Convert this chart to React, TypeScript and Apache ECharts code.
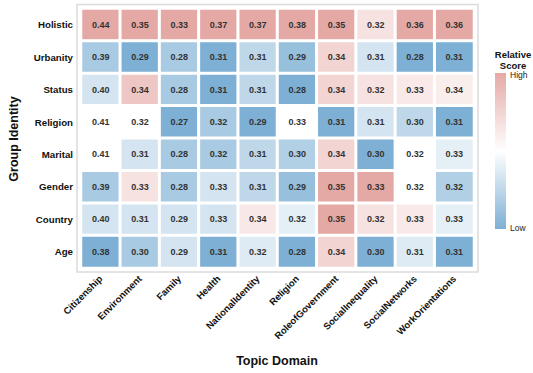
import React, { useEffect, useRef } from "react";
import * as echarts from "echarts";

// Topic domains (columns) and group identities (rows, top to bottom)
const topics = [
  "Citizenship",
  "Environment",
  "Family",
  "Health",
  "NationalIdentity",
  "Religion",
  "RoleofGovernment",
  "SocialInequality",
  "SocialNetworks",
  "WorkOrientations",
];
const groups = ["Holistic", "Urbanity", "Status", "Religion", "Marital", "Gender", "Country", "Age"];

// Scores per group, one value per topic
const holistic = [0.44, 0.35, 0.33, 0.37, 0.37, 0.38, 0.35, 0.32, 0.36, 0.36];
const urbanity = [0.39, 0.29, 0.28, 0.31, 0.31, 0.29, 0.34, 0.31, 0.28, 0.31];
const status = [0.40, 0.34, 0.28, 0.31, 0.31, 0.28, 0.34, 0.32, 0.33, 0.34];
const religion = [0.41, 0.32, 0.27, 0.32, 0.29, 0.33, 0.31, 0.31, 0.30, 0.31];
const marital = [0.41, 0.31, 0.28, 0.32, 0.31, 0.30, 0.34, 0.30, 0.32, 0.33];
const gender = [0.39, 0.33, 0.28, 0.33, 0.31, 0.29, 0.35, 0.33, 0.32, 0.32];
const country = [0.40, 0.31, 0.29, 0.33, 0.34, 0.32, 0.35, 0.32, 0.33, 0.33];
const age = [0.38, 0.30, 0.29, 0.31, 0.32, 0.28, 0.34, 0.30, 0.31, 0.31];

const rowsData = [holistic, urbanity, status, religion, marital, gender, country, age];

const LOW = "#7db0d4";
const MID = "#ffffff";
const HIGH = "#e5a9a5";
const FONT = "'Liberation Sans', Arial, Helvetica, sans-serif";

export default function App() {
  const ref = useRef<HTMLDivElement>(null);

  useEffect(() => {
    if (!ref.current) return;
    const chart = echarts.init(ref.current, undefined, { renderer: "svg" });

    // Relative score: min-max normalised within each topic column
    const data: any[] = [];
    topics.forEach((_, c) => {
      const col = rowsData.map((r) => r[c]);
      const mn = Math.min(...col);
      const mx = Math.max(...col);
      rowsData.forEach((r, g) => {
        const rel = mx > mn ? (r[c] - mn) / (mx - mn) : 0.5;
        data.push([c, g, r[c], rel]);
      });
    });

    chart.setOption({
      animation: false,
      backgroundColor: "#ffffff",
      textStyle: { fontFamily: FONT },
      grid: { left: 81, top: 8.5, right: 59, bottom: 105 },
      xAxis: {
        type: "category",
        data: topics,
        axisLine: { show: false },
        axisTick: { show: false },
        splitLine: { show: false },
        axisLabel: {
          rotate: 45,
          interval: 0,
          margin: 9,
          fontSize: 9.5,
          fontWeight: "bold",
          color: "#111",
          fontFamily: FONT,
        },
      },
      yAxis: {
        type: "category",
        data: groups,
        inverse: true,
        axisLine: { show: false },
        axisTick: { show: false },
        splitLine: { show: false },
        axisLabel: {
          margin: 8,
          fontSize: 9.7,
          fontWeight: "bold",
          color: "#111",
          fontFamily: FONT,
        },
      },
      visualMap: {
        show: false,
        type: "continuous",
        min: 0,
        max: 1,
        dimension: 3,
        inRange: { color: [LOW, MID, HIGH] },
      },
      series: [
        {
          type: "heatmap",
          data,
          encode: { x: 0, y: 1 },
          itemStyle: { borderColor: "#ffffff", borderWidth: 3 },
          label: {
            show: true,
            fontSize: 9,
            fontWeight: "bold",
            color: "#333",
            fontFamily: FONT,
            formatter: (p: any) => p.value[2].toFixed(2),
          },
          emphasis: { disabled: true },
        },
      ],
      graphic: [
        {
          type: "rect",
          shape: { x: 77, y: 4.5, width: 401, height: 267.5 },
          style: { fill: "none", stroke: "#dcdcdc", lineWidth: 1.5 },
          silent: true,
        },
        {
          type: "text",
          x: 14,
          y: 139,
          rotation: Math.PI / 2,
          style: {
            text: "Group Identity",
            fontSize: 12.5,
            fontWeight: "bold",
            fill: "#111",
            fontFamily: FONT,
            align: "center",
            verticalAlign: "middle",
          },
        },
        {
          type: "text",
          x: 277,
          y: 361,
          style: {
            text: "Topic Domain",
            fontSize: 12.5,
            fontWeight: "bold",
            fill: "#111",
            fontFamily: FONT,
            align: "center",
            verticalAlign: "middle",
          },
        },
        {
          type: "text",
          x: 513,
          y: 60,
          style: {
            text: "Relative\nScore",
            fontSize: 9.5,
            fontWeight: "bold",
            lineHeight: 10.5,
            fill: "#111",
            fontFamily: FONT,
            align: "center",
            verticalAlign: "middle",
          },
        },
        {
          type: "rect",
          shape: { x: 495, y: 73, width: 11, height: 156 },
          style: {
            fill: new echarts.graphic.LinearGradient(0, 0, 0, 1, [
              { offset: 0, color: HIGH },
              { offset: 0.5, color: MID },
              { offset: 1, color: LOW },
            ]),
          },
          silent: true,
        },
        {
          type: "text",
          x: 510,
          y: 75,
          style: { text: "High", fontSize: 8.5, fill: "#222", fontFamily: FONT, verticalAlign: "middle" },
        },
        {
          type: "text",
          x: 510,
          y: 228,
          style: { text: "Low", fontSize: 8.5, fill: "#222", fontFamily: FONT, verticalAlign: "middle" },
        },
      ],
    });

    return () => chart.dispose();
  }, []);

  return (
    <div
      ref={ref}
      style={{ position: "fixed", left: 0, top: 0, width: 533, height: 373, background: "#fff" }}
    />
  );
}
